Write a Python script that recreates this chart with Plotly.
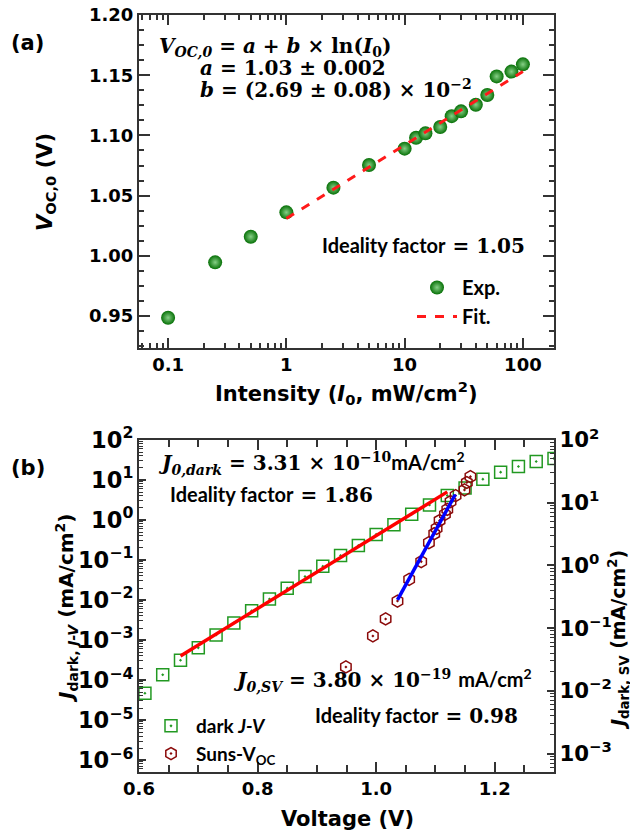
import plotly.graph_objects as go

W, H = 630, 836

# ---------------- Panel (a) data ----------------
intensity = [0.1, 0.25, 0.5, 1, 2.5, 5, 10, 12.5, 15, 20, 25, 30, 40, 50, 60, 80, 100]
voc = [0.9486, 0.9946, 1.0159, 1.0361, 1.0566, 1.0754, 1.0890, 1.0980, 1.1017,
       1.1070, 1.1160, 1.1200, 1.1255, 1.1336, 1.1490, 1.1530, 1.1590]
fit_a_x = [1, 100]
fit_a_y = [1.031, 1.153]

# ---------------- Panel (b) data ----------------
v_dark = [0.61, 0.64, 0.67, 0.70, 0.73, 0.76, 0.79, 0.82, 0.85, 0.88, 0.91, 0.94,
          0.97, 1.00, 1.03, 1.06, 1.09, 1.12, 1.15, 1.18, 1.21, 1.24, 1.27, 1.30]
j_dark = [4.7e-5, 1.36e-4, 3.13e-4, 6.4e-4, 1.34e-3, 2.67e-3, 5.4e-3, 1.06e-2,
          1.98e-2, 3.87e-2, 7.0e-2, 0.130, 0.231, 0.437, 0.764, 1.39, 2.38, 4.08,
          6.3, 10.5, 15.7, 21.8, 29.1, 34.7]
fit_dark_v = [0.67, 1.12]
fit_dark_j = [4.0e-4, 5.05]

v_suns = [0.949, 0.9945, 1.016, 1.036, 1.0557, 1.076, 1.089, 1.098, 1.102,
          1.107, 1.116, 1.120, 1.1255, 1.134, 1.149, 1.153, 1.159]
j_suns = [0.024, 0.075, 0.14, 0.27, 0.60, 1.15, 2.3, 3.2, 3.9, 5.2, 6.5, 7.8,
          10.4, 13.0, 16.0, 21.0, 26.0]
fit_sv_v = [1.036, 1.1335]
fit_sv_j = [0.282, 13.5]

ytick_alias = {"1": "10<sup>0</sup>", "10": "10<sup>1</sup>"}

SANS = "DejaVu Sans"
SERIF = "DejaVu Serif"
CAL = "Lato"
AX = "#333333"


def px(x):
    return x / W


def py(y):
    return 1 - y / H


fig = go.Figure()

# panel (a)
fig.add_trace(go.Scatter(
    x=intensity, y=voc, mode="markers", name="Exp.", xaxis="x", yaxis="y",
    legend="legend",
    marker=dict(size=14, color="#067006", line=dict(width=0),
                gradient=dict(type="radial", color="#86d086")),
))
fig.add_trace(go.Scatter(
    x=fit_a_x, y=fit_a_y, mode="lines", name="Fit.", xaxis="x", yaxis="y",
    legend="legend",
    line=dict(color="#ff1a1a", width=3, dash="dash"),
))

# panel (b)
fig.add_trace(go.Scatter(
    x=v_dark, y=j_dark, mode="markers", name="dark <i>J-V</i>", xaxis="x2", yaxis="y2",
    legend="legend2",
    marker=dict(symbol="square-open-dot", size=12, color="#229922", line=dict(width=1.5)),
))
fig.add_trace(go.Scatter(
    x=fit_dark_v, y=fit_dark_j, mode="lines", showlegend=False, xaxis="x2", yaxis="y2",
    line=dict(color="#ff0000", width=3.5),
))
fig.add_trace(go.Scatter(
    x=v_suns, y=j_suns, mode="markers", name="Suns-V<sub>OC</sub>", xaxis="x2", yaxis="y3",
    legend="legend2",
    marker=dict(symbol="hexagon-open-dot", size=12, color="#8b0a0a", line=dict(width=1.5)),
))
fig.add_trace(go.Scatter(
    x=fit_sv_v, y=fit_sv_j, mode="lines", showlegend=False, xaxis="x2", yaxis="y3",
    line=dict(color="#0000ff", width=3.5),
))

tickfont = dict(family=SANS, size=18, color="black", weight="bold")
base = dict(showline=True, linecolor=AX, linewidth=2, ticks="inside", tickcolor=AX,
            tickwidth=2, showgrid=False, zeroline=False, tickfont=tickfont, automargin=False)

xdom = [px(139), px(554)]
fig.update_layout(
    template="none",
    width=W, height=H, margin=dict(l=0, r=0, t=0, b=0, pad=0),
    paper_bgcolor="white", plot_bgcolor="white",
    xaxis=dict(base, type="log", range=[-1.246, 2.263], domain=xdom, anchor="y",
               dtick=1, ticklen=10, mirror="ticks",
               minor=dict(ticks="inside", ticklen=5, tickwidth=1.5, tickcolor=AX, dtick="D1")),
    yaxis=dict(base, range=[0.9237, 1.20], domain=[py(347.7), py(15)], anchor="x",
               dtick=0.05, tickformat=".2f", ticklen=11, mirror="ticks",
               minor=dict(ticks="inside", ticklen=5, tickwidth=1.5, tickcolor=AX, dtick=0.0125)),
    xaxis2=dict(base, range=[0.6, 1.3], domain=xdom, anchor="y2", dtick=0.2, tick0=0.6,
                tickformat=".1f", ticklen=10, mirror="ticks",
                minor=dict(ticks="inside", ticklen=7, tickwidth=1.5, tickcolor=AX, dtick=0.05)),
    yaxis2=dict(base, type="log", range=[-6.29, 2], domain=[py(771.7), py(440)], anchor="x2",
                dtick=1, exponentformat="power", labelalias=ytick_alias, ticklen=7,
                minor=dict(ticks="inside", ticklen=4, tickwidth=1.2, tickcolor=AX, dtick="D1")),
    yaxis3=dict(base, type="log", range=[-3.29, 2], overlaying="y2", side="right", anchor="x2",
                dtick=1, exponentformat="power", labelalias=ytick_alias, ticklen=7,
                tickfont=dict(family=SANS, size=17, color="black", weight="bold"),
                minor=dict(ticks="inside", ticklen=4, tickwidth=1.2, tickcolor=AX, dtick="D1")),
    legend=dict(x=px(412), y=py(268), xanchor="left", yanchor="top", itemwidth=40,
                bgcolor="rgba(0,0,0,0)", font=dict(family=CAL, size=20, color="black", weight="bold"),
                tracegroupgap=0),
    legend2=dict(x=px(146), y=py(707), xanchor="left", yanchor="top", itemwidth=40,
                 bgcolor="rgba(0,0,0,0)", font=dict(family=CAL, size=19, color="black", weight="bold"),
                 tracegroupgap=0),
)

ann = []


def add(text, x, y, size=19, family=SERIF, xanchor="left", angle=0, weight="bold"):
    ann.append(dict(text=text, x=px(x), y=py(y), xref="paper", yref="paper",
                    xanchor=xanchor, yanchor="middle", showarrow=False, textangle=angle,
                    font=dict(family=family, size=size, color="black", weight=weight)))


# panel labels
add("(a)", 27, 43, size=21, family=SANS, xanchor="center")
add("(b)", 28, 468, size=21, family=SANS, xanchor="center")

# panel (a) equation text
add("<i>V</i><sub><i>OC,0</i></sub> = <i>a</i> + <i>b</i> × ln(<i>I</i><sub>0</sub>)", 157, 47, size=20)
add("<i>a</i> = 1.03 ± 0.002", 198, 68, size=20)
add("<i>b</i> = (2.69 ± 0.08) × 10<sup>−2</sup>", 198, 89, size=20)
add("<span style='font-family:Lato'>Ideality factor</span> = 1.05", 320, 245, size=20)

# panel (b) texts
add("<i>J</i><sub><i>0,dark</i></sub> = 3.31 × 10<sup>−10</sup><span style='font-family:Lato'>mA/cm<sup>2</sup></span>", 156, 463, size=20)
add("<span style='font-family:Lato'>Ideality factor</span> = 1.86", 168, 494, size=20)
add("<i>J</i><sub><i>0,SV</i></sub> = 3.80 × 10<sup>−19</sup> <span style='font-family:Lato'>mA/cm<sup>2</sup></span>", 231, 680, size=20)
add("<span style='font-family:Lato'>Ideality factor</span> = 0.98", 313, 715, size=20)

# axis titles
add("<i>V</i><sub>OC,0</sub> (V)", 46, 182, size=21, family=SANS, xanchor="center", angle=-90)
add("Intensity (<i>I</i><sub>0</sub>, mW/cm<sup>2</sup>)", 346, 393, size=21, family=SANS, xanchor="center")
add("<i>J</i><sub>dark, <i>J-V</i></sub> (mA/cm<sup>2</sup>)", 66, 608, size=20, family=SANS, xanchor="center", angle=-90)
add("<i>J</i><sub>dark, SV</sub> (mA/cm<sup>2</sup>)", 618, 640, size=19, family=SANS, xanchor="center", angle=-90)
add("Voltage (V)", 347, 819, size=21, family=SANS, xanchor="center")

fig.update_layout(annotations=ann)
fig.write_html("out.html", config={"displayModeBar": False},
               post_script="document.body.style.margin='0px';")
